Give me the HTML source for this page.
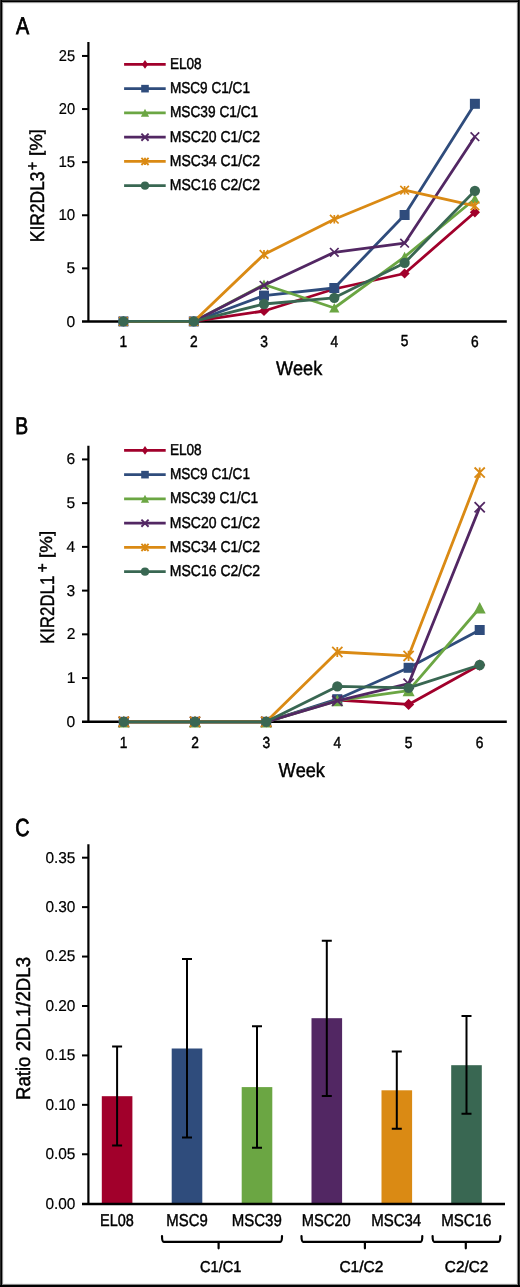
<!DOCTYPE html><html><head><meta charset="utf-8"><style>html,body{margin:0;padding:0;background:#fff;}svg{display:block;will-change:transform;}text{font-family:"Liberation Sans",sans-serif;fill:#000;font-kerning:none;text-rendering:geometricPrecision;stroke:#000;stroke-width:0.45px;}</style></head><body>
<svg width="520" height="1287" viewBox="0 0 520 1287">
<rect width="520" height="1287" fill="#fff"/>
<text transform="translate(15.96 33.50) scale(0.8139 1)" font-size="24.27" style="stroke-width:0.8px">A</text>
<path d="M88.4 42V321.45" stroke="#000" stroke-width="2.2" fill="none"/>
<path d="M82 321.45H506.8" stroke="#000" stroke-width="2.5" fill="none"/>
<text transform="translate(66.53 326.52) scale(1.0000 1)" font-size="15.60" style="stroke-width:0.2px">0</text>
<path d="M82 268.35H88.4" stroke="#000" stroke-width="2" fill="none"/>
<text transform="translate(66.58 273.34) scale(1.0000 1)" font-size="15.60" style="stroke-width:0.2px">5</text>
<path d="M82 215.25H88.4" stroke="#000" stroke-width="2" fill="none"/>
<text transform="translate(58.45 220.32) scale(0.9644 1)" font-size="15.60" style="stroke-width:0.2px">10</text>
<path d="M82 162.15H88.4" stroke="#000" stroke-width="2" fill="none"/>
<text transform="translate(58.45 167.14) scale(0.9672 1)" font-size="15.60" style="stroke-width:0.2px">15</text>
<path d="M82 109.05H88.4" stroke="#000" stroke-width="2" fill="none"/>
<text transform="translate(58.86 114.12) scale(0.9400 1)" font-size="15.60" style="stroke-width:0.2px">20</text>
<path d="M82 55.95H88.4" stroke="#000" stroke-width="2" fill="none"/>
<text transform="translate(58.86 61.02) scale(0.9427 1)" font-size="15.60" style="stroke-width:0.2px">25</text>
<text transform="translate(119.39 346.55) scale(0.8600 1)" font-size="16.00">1</text>
<text transform="translate(189.97 346.64) scale(0.8600 1)" font-size="16.00">2</text>
<text transform="translate(260.21 346.56) scale(0.8600 1)" font-size="16.00">3</text>
<text transform="translate(330.52 346.55) scale(0.8600 1)" font-size="16.00">4</text>
<text transform="translate(400.79 346.48) scale(0.8600 1)" font-size="16.00">5</text>
<text transform="translate(471.03 346.56) scale(0.8600 1)" font-size="16.00">6</text>
<path d="M123.40 321.45 L193.80 321.45 L264.00 311.00 L334.30 289.00 L404.60 273.50 L474.90 212.30" stroke="#A1002B" stroke-width="2.8" fill="none" stroke-linejoin="round"/>
<path d="M123.40 316.35L128.50 321.45L123.40 326.55L118.30 321.45Z" fill="#A1002B"/>
<path d="M193.80 316.35L198.90 321.45L193.80 326.55L188.70 321.45Z" fill="#A1002B"/>
<path d="M264.00 305.90L269.10 311.00L264.00 316.10L258.90 311.00Z" fill="#A1002B"/>
<path d="M334.30 283.90L339.40 289.00L334.30 294.10L329.20 289.00Z" fill="#A1002B"/>
<path d="M404.60 268.40L409.70 273.50L404.60 278.60L399.50 273.50Z" fill="#A1002B"/>
<path d="M474.90 207.20L480.00 212.30L474.90 217.40L469.80 212.30Z" fill="#A1002B"/>
<path d="M123.40 321.45 L193.80 321.45 L264.00 295.60 L334.30 288.00 L404.60 215.00 L474.90 103.80" stroke="#2F4C7C" stroke-width="2.8" fill="none" stroke-linejoin="round"/>
<rect x="118.40" y="316.45" width="10.00" height="10.00" fill="#2F4C7C"/>
<rect x="188.80" y="316.45" width="10.00" height="10.00" fill="#2F4C7C"/>
<rect x="259.00" y="290.60" width="10.00" height="10.00" fill="#2F4C7C"/>
<rect x="329.30" y="283.00" width="10.00" height="10.00" fill="#2F4C7C"/>
<rect x="399.60" y="210.00" width="10.00" height="10.00" fill="#2F4C7C"/>
<rect x="469.90" y="98.80" width="10.00" height="10.00" fill="#2F4C7C"/>
<path d="M123.40 321.45 L193.80 321.45 L264.00 284.50 L334.30 308.00 L404.60 256.80 L474.90 199.00" stroke="#6BA643" stroke-width="2.8" fill="none" stroke-linejoin="round"/>
<path d="M123.40 316.45L128.50 326.05L118.30 326.05Z" fill="#6BA643"/>
<path d="M193.80 316.45L198.90 326.05L188.70 326.05Z" fill="#6BA643"/>
<path d="M264.00 279.50L269.10 289.10L258.90 289.10Z" fill="#6BA643"/>
<path d="M334.30 303.00L339.40 312.60L329.20 312.60Z" fill="#6BA643"/>
<path d="M404.60 251.80L409.70 261.40L399.50 261.40Z" fill="#6BA643"/>
<path d="M474.90 194.00L480.00 203.60L469.80 203.60Z" fill="#6BA643"/>
<path d="M123.40 321.45 L193.80 321.45 L264.00 285.30 L334.30 252.30 L404.60 243.20 L474.90 136.70" stroke="#522763" stroke-width="2.8" fill="none" stroke-linejoin="round"/>
<path d="M119.10 317.15L127.70 325.75M127.70 317.15L119.10 325.75" stroke="#522763" stroke-width="1.7" fill="none"/>
<path d="M189.50 317.15L198.10 325.75M198.10 317.15L189.50 325.75" stroke="#522763" stroke-width="1.7" fill="none"/>
<path d="M259.70 281.00L268.30 289.60M268.30 281.00L259.70 289.60" stroke="#522763" stroke-width="1.7" fill="none"/>
<path d="M330.00 248.00L338.60 256.60M338.60 248.00L330.00 256.60" stroke="#522763" stroke-width="1.7" fill="none"/>
<path d="M400.30 238.90L408.90 247.50M408.90 238.90L400.30 247.50" stroke="#522763" stroke-width="1.7" fill="none"/>
<path d="M470.60 132.40L479.20 141.00M479.20 132.40L470.60 141.00" stroke="#522763" stroke-width="1.7" fill="none"/>
<path d="M123.40 321.45 L193.80 321.45 L264.00 254.40 L334.30 219.20 L404.60 190.20 L474.90 205.80" stroke="#DA8A14" stroke-width="2.8" fill="none" stroke-linejoin="round"/>
<path d="M119.10 317.15L127.70 325.75M127.70 317.15L119.10 325.75M123.40 317.15L123.40 325.75" stroke="#DA8A14" stroke-width="1.7" fill="none"/>
<path d="M189.50 317.15L198.10 325.75M198.10 317.15L189.50 325.75M193.80 317.15L193.80 325.75" stroke="#DA8A14" stroke-width="1.7" fill="none"/>
<path d="M259.70 250.10L268.30 258.70M268.30 250.10L259.70 258.70M264.00 250.10L264.00 258.70" stroke="#DA8A14" stroke-width="1.7" fill="none"/>
<path d="M330.00 214.90L338.60 223.50M338.60 214.90L330.00 223.50M334.30 214.90L334.30 223.50" stroke="#DA8A14" stroke-width="1.7" fill="none"/>
<path d="M400.30 185.90L408.90 194.50M408.90 185.90L400.30 194.50M404.60 185.90L404.60 194.50" stroke="#DA8A14" stroke-width="1.7" fill="none"/>
<path d="M470.60 201.50L479.20 210.10M479.20 201.50L470.60 210.10M474.90 201.50L474.90 210.10" stroke="#DA8A14" stroke-width="1.7" fill="none"/>
<path d="M123.40 321.45 L193.80 321.45 L264.00 304.00 L334.30 297.80 L404.60 262.90 L474.90 190.80" stroke="#396752" stroke-width="2.8" fill="none" stroke-linejoin="round"/>
<circle cx="123.40" cy="321.45" r="5.15" fill="#396752"/>
<circle cx="193.80" cy="321.45" r="5.15" fill="#396752"/>
<circle cx="264.00" cy="304.00" r="5.15" fill="#396752"/>
<circle cx="334.30" cy="297.80" r="5.15" fill="#396752"/>
<circle cx="404.60" cy="262.90" r="5.15" fill="#396752"/>
<circle cx="474.90" cy="190.80" r="5.15" fill="#396752"/>
<path d="M124.1 64.40H165.7" stroke="#A1002B" stroke-width="2.8" fill="none"/>
<path d="M145.00 60.10L148.10 64.40L145.00 68.70L141.90 64.40Z" fill="#A1002B"/>
<text transform="translate(169.88 68.95) scale(0.8636 1)" font-size="15.77">EL08</text>
<path d="M124.1 88.65H165.7" stroke="#2F4C7C" stroke-width="2.8" fill="none"/>
<rect x="141.20" y="84.85" width="7.60" height="7.60" fill="#2F4C7C"/>
<text transform="translate(169.88 93.20) scale(0.8620 1)" font-size="15.77">MSC9 C1/C1</text>
<path d="M124.1 112.90H165.7" stroke="#6BA643" stroke-width="2.8" fill="none"/>
<path d="M145.00 108.70L149.10 116.70L140.90 116.70Z" fill="#6BA643"/>
<text transform="translate(169.88 117.45) scale(0.8694 1)" font-size="15.77">MSC39 C1/C1</text>
<path d="M124.1 137.15H165.7" stroke="#522763" stroke-width="2.8" fill="none"/>
<path d="M141.40 133.55L148.60 140.75M148.60 133.55L141.40 140.75" stroke="#522763" stroke-width="1.9" fill="none"/>
<text transform="translate(169.85 141.70) scale(0.8877 1)" font-size="15.77">MSC20 C1/C2</text>
<path d="M124.1 161.40H165.7" stroke="#DA8A14" stroke-width="2.8" fill="none"/>
<path d="M141.40 157.80L148.60 165.00M148.60 157.80L141.40 165.00M145.00 157.80L145.00 165.00" stroke="#DA8A14" stroke-width="1.9" fill="none"/>
<text transform="translate(169.85 165.95) scale(0.8877 1)" font-size="15.77">MSC34 C1/C2</text>
<path d="M124.1 185.65H165.7" stroke="#396752" stroke-width="2.8" fill="none"/>
<circle cx="145.00" cy="185.65" r="4.10" fill="#396752"/>
<text transform="translate(169.85 190.20) scale(0.8877 1)" font-size="15.77">MSC16 C2/C2</text>
<text transform="translate(275.92 374.70) scale(0.9140 1)" font-size="19.84">Week</text>
<text transform="translate(43.70 242.13) rotate(-90) scale(0.8814 1)" font-size="19.77">KIR2DL3</text>
<text transform="translate(38.19 170.21) rotate(-90) scale(0.8614 1)" font-size="16.96">+</text>
<text transform="translate(42.27 156.04) rotate(-90) scale(1.0715 1)" font-size="17.49">[%]</text>
<text transform="translate(15.21 433.70) scale(0.8021 1)" font-size="24.13" style="stroke-width:0.8px">B</text>
<path d="M88.4 445.75V721.8" stroke="#000" stroke-width="2.2" fill="none"/>
<path d="M82 721.8H506.8" stroke="#000" stroke-width="2.5" fill="none"/>
<text transform="translate(66.53 726.87) scale(1.0000 1)" font-size="15.60" style="stroke-width:0.2px">0</text>
<path d="M82 678.07H88.4" stroke="#000" stroke-width="2" fill="none"/>
<text transform="translate(66.69 683.14) scale(1.0000 1)" font-size="15.60" style="stroke-width:0.2px">1</text>
<path d="M82 634.34H88.4" stroke="#000" stroke-width="2" fill="none"/>
<text transform="translate(66.71 639.49) scale(1.0000 1)" font-size="15.60" style="stroke-width:0.2px">2</text>
<path d="M82 590.61H88.4" stroke="#000" stroke-width="2" fill="none"/>
<text transform="translate(66.61 595.68) scale(1.0000 1)" font-size="15.60" style="stroke-width:0.2px">3</text>
<path d="M82 546.88H88.4" stroke="#000" stroke-width="2" fill="none"/>
<text transform="translate(66.38 551.95) scale(1.0000 1)" font-size="15.60" style="stroke-width:0.2px">4</text>
<path d="M82 503.15H88.4" stroke="#000" stroke-width="2" fill="none"/>
<text transform="translate(66.58 508.14) scale(1.0000 1)" font-size="15.60" style="stroke-width:0.2px">5</text>
<path d="M82 459.42H88.4" stroke="#000" stroke-width="2" fill="none"/>
<text transform="translate(66.61 464.49) scale(1.0000 1)" font-size="15.60" style="stroke-width:0.2px">6</text>
<text transform="translate(119.79 748.15) scale(0.8600 1)" font-size="16.00">1</text>
<text transform="translate(191.17 748.24) scale(0.8600 1)" font-size="16.00">2</text>
<text transform="translate(262.41 748.16) scale(0.8600 1)" font-size="16.00">3</text>
<text transform="translate(333.52 748.15) scale(0.8600 1)" font-size="16.00">4</text>
<text transform="translate(404.79 748.08) scale(0.8600 1)" font-size="16.00">5</text>
<text transform="translate(475.83 748.16) scale(0.8600 1)" font-size="16.00">6</text>
<path d="M123.80 721.80 L195.00 721.80 L266.20 721.80 L337.30 700.00 L408.60 704.40 L479.70 665.10" stroke="#A1002B" stroke-width="2.8" fill="none" stroke-linejoin="round"/>
<path d="M123.80 716.20L129.40 721.80L123.80 727.40L118.20 721.80Z" fill="#A1002B"/>
<path d="M195.00 716.20L200.60 721.80L195.00 727.40L189.40 721.80Z" fill="#A1002B"/>
<path d="M266.20 716.20L271.80 721.80L266.20 727.40L260.60 721.80Z" fill="#A1002B"/>
<path d="M337.30 694.40L342.90 700.00L337.30 705.60L331.70 700.00Z" fill="#A1002B"/>
<path d="M408.60 698.80L414.20 704.40L408.60 710.00L403.00 704.40Z" fill="#A1002B"/>
<path d="M479.70 659.50L485.30 665.10L479.70 670.70L474.10 665.10Z" fill="#A1002B"/>
<path d="M123.80 721.80 L195.00 721.80 L266.20 721.80 L337.30 699.20 L408.60 667.80 L479.70 630.00" stroke="#2F4C7C" stroke-width="2.8" fill="none" stroke-linejoin="round"/>
<rect x="118.80" y="716.80" width="10.00" height="10.00" fill="#2F4C7C"/>
<rect x="190.00" y="716.80" width="10.00" height="10.00" fill="#2F4C7C"/>
<rect x="261.20" y="716.80" width="10.00" height="10.00" fill="#2F4C7C"/>
<rect x="332.30" y="694.20" width="10.00" height="10.00" fill="#2F4C7C"/>
<rect x="403.60" y="662.80" width="10.00" height="10.00" fill="#2F4C7C"/>
<rect x="474.70" y="625.00" width="10.00" height="10.00" fill="#2F4C7C"/>
<path d="M123.80 721.80 L195.00 721.80 L266.20 721.80 L337.30 700.60 L408.60 690.60 L479.70 608.00" stroke="#6BA643" stroke-width="2.8" fill="none" stroke-linejoin="round"/>
<path d="M123.80 715.80L129.80 727.40L117.80 727.40Z" fill="#6BA643"/>
<path d="M195.00 715.80L201.00 727.40L189.00 727.40Z" fill="#6BA643"/>
<path d="M266.20 715.80L272.20 727.40L260.20 727.40Z" fill="#6BA643"/>
<path d="M337.30 694.60L343.30 706.20L331.30 706.20Z" fill="#6BA643"/>
<path d="M408.60 684.60L414.60 696.20L402.60 696.20Z" fill="#6BA643"/>
<path d="M479.70 602.00L485.70 613.60L473.70 613.60Z" fill="#6BA643"/>
<path d="M123.80 721.80 L195.00 721.80 L266.20 721.80 L337.30 700.80 L408.60 683.70 L479.70 507.30" stroke="#522763" stroke-width="2.8" fill="none" stroke-linejoin="round"/>
<path d="M118.70 716.70L128.90 726.90M128.90 716.70L118.70 726.90" stroke="#522763" stroke-width="1.8" fill="none"/>
<path d="M189.90 716.70L200.10 726.90M200.10 716.70L189.90 726.90" stroke="#522763" stroke-width="1.8" fill="none"/>
<path d="M261.10 716.70L271.30 726.90M271.30 716.70L261.10 726.90" stroke="#522763" stroke-width="1.8" fill="none"/>
<path d="M332.20 695.70L342.40 705.90M342.40 695.70L332.20 705.90" stroke="#522763" stroke-width="1.8" fill="none"/>
<path d="M403.50 678.60L413.70 688.80M413.70 678.60L403.50 688.80" stroke="#522763" stroke-width="1.8" fill="none"/>
<path d="M474.60 502.20L484.80 512.40M484.80 502.20L474.60 512.40" stroke="#522763" stroke-width="1.8" fill="none"/>
<path d="M123.80 721.80 L195.00 721.80 L266.20 721.80 L337.30 652.00 L408.60 655.90 L479.70 472.60" stroke="#DA8A14" stroke-width="2.8" fill="none" stroke-linejoin="round"/>
<path d="M118.70 716.70L128.90 726.90M128.90 716.70L118.70 726.90M123.80 716.70L123.80 726.90" stroke="#DA8A14" stroke-width="1.8" fill="none"/>
<path d="M189.90 716.70L200.10 726.90M200.10 716.70L189.90 726.90M195.00 716.70L195.00 726.90" stroke="#DA8A14" stroke-width="1.8" fill="none"/>
<path d="M261.10 716.70L271.30 726.90M271.30 716.70L261.10 726.90M266.20 716.70L266.20 726.90" stroke="#DA8A14" stroke-width="1.8" fill="none"/>
<path d="M332.20 646.90L342.40 657.10M342.40 646.90L332.20 657.10M337.30 646.90L337.30 657.10" stroke="#DA8A14" stroke-width="1.8" fill="none"/>
<path d="M403.50 650.80L413.70 661.00M413.70 650.80L403.50 661.00M408.60 650.80L408.60 661.00" stroke="#DA8A14" stroke-width="1.8" fill="none"/>
<path d="M474.60 467.50L484.80 477.70M484.80 467.50L474.60 477.70M479.70 467.50L479.70 477.70" stroke="#DA8A14" stroke-width="1.8" fill="none"/>
<path d="M123.80 721.80 L195.00 721.80 L266.20 721.80 L337.30 686.40 L408.60 687.80 L479.70 665.00" stroke="#396752" stroke-width="2.8" fill="none" stroke-linejoin="round"/>
<circle cx="123.80" cy="721.80" r="5.15" fill="#396752"/>
<circle cx="195.00" cy="721.80" r="5.15" fill="#396752"/>
<circle cx="266.20" cy="721.80" r="5.15" fill="#396752"/>
<circle cx="337.30" cy="686.40" r="5.15" fill="#396752"/>
<circle cx="408.60" cy="687.80" r="5.15" fill="#396752"/>
<circle cx="479.70" cy="665.00" r="5.15" fill="#396752"/>
<path d="M124.1 450.40H165.7" stroke="#A1002B" stroke-width="2.8" fill="none"/>
<path d="M145.00 446.10L148.10 450.40L145.00 454.70L141.90 450.40Z" fill="#A1002B"/>
<text transform="translate(169.88 454.95) scale(0.8636 1)" font-size="15.77">EL08</text>
<path d="M124.1 474.65H165.7" stroke="#2F4C7C" stroke-width="2.8" fill="none"/>
<rect x="141.20" y="470.85" width="7.60" height="7.60" fill="#2F4C7C"/>
<text transform="translate(169.88 479.20) scale(0.8620 1)" font-size="15.77">MSC9 C1/C1</text>
<path d="M124.1 498.90H165.7" stroke="#6BA643" stroke-width="2.8" fill="none"/>
<path d="M145.00 494.70L149.10 502.70L140.90 502.70Z" fill="#6BA643"/>
<text transform="translate(169.88 503.45) scale(0.8694 1)" font-size="15.77">MSC39 C1/C1</text>
<path d="M124.1 523.15H165.7" stroke="#522763" stroke-width="2.8" fill="none"/>
<path d="M141.40 519.55L148.60 526.75M148.60 519.55L141.40 526.75" stroke="#522763" stroke-width="1.9" fill="none"/>
<text transform="translate(169.85 527.70) scale(0.8877 1)" font-size="15.77">MSC20 C1/C2</text>
<path d="M124.1 547.40H165.7" stroke="#DA8A14" stroke-width="2.8" fill="none"/>
<path d="M141.40 543.80L148.60 551.00M148.60 543.80L141.40 551.00M145.00 543.80L145.00 551.00" stroke="#DA8A14" stroke-width="1.9" fill="none"/>
<text transform="translate(169.85 551.95) scale(0.8877 1)" font-size="15.77">MSC34 C1/C2</text>
<path d="M124.1 571.65H165.7" stroke="#396752" stroke-width="2.8" fill="none"/>
<circle cx="145.00" cy="571.65" r="4.10" fill="#396752"/>
<text transform="translate(169.85 576.20) scale(0.8877 1)" font-size="15.77">MSC16 C2/C2</text>
<text transform="translate(278.62 776.50) scale(0.8975 1)" font-size="20.20">Week</text>
<text transform="translate(53.80 644.08) rotate(-90) scale(0.8592 1)" font-size="19.62">KIR2DL1</text>
<text transform="translate(48.19 572.47) rotate(-90) scale(0.9342 1)" font-size="16.96">+</text>
<text transform="translate(52.22 558.04) rotate(-90) scale(1.0892 1)" font-size="17.27">[%]</text>
<text transform="translate(15.30 835.56) scale(0.7985 1)" font-size="24.72" style="stroke-width:0.8px">C</text>
<path d="M88.4 844.25V1204.0" stroke="#000" stroke-width="2.2" fill="none"/>
<text transform="translate(45.40 1208.57) scale(0.9882 1)" font-size="15.60" style="stroke-width:0.2px">0.00</text>
<path d="M82 1154.27H88.4" stroke="#000" stroke-width="2" fill="none"/>
<text transform="translate(45.40 1159.14) scale(0.9898 1)" font-size="15.60" style="stroke-width:0.2px">0.05</text>
<path d="M82 1104.84H88.4" stroke="#000" stroke-width="2" fill="none"/>
<text transform="translate(45.40 1109.71) scale(0.9882 1)" font-size="15.60" style="stroke-width:0.2px">0.10</text>
<path d="M82 1055.41H88.4" stroke="#000" stroke-width="2" fill="none"/>
<text transform="translate(45.40 1060.28) scale(0.9898 1)" font-size="15.60" style="stroke-width:0.2px">0.15</text>
<path d="M82 1005.98H88.4" stroke="#000" stroke-width="2" fill="none"/>
<text transform="translate(45.40 1010.85) scale(0.9882 1)" font-size="15.60" style="stroke-width:0.2px">0.20</text>
<path d="M82 956.55H88.4" stroke="#000" stroke-width="2" fill="none"/>
<text transform="translate(45.40 961.42) scale(0.9898 1)" font-size="15.60" style="stroke-width:0.2px">0.25</text>
<path d="M82 907.12H88.4" stroke="#000" stroke-width="2" fill="none"/>
<text transform="translate(45.40 911.99) scale(0.9882 1)" font-size="15.60" style="stroke-width:0.2px">0.30</text>
<path d="M82 857.69H88.4" stroke="#000" stroke-width="2" fill="none"/>
<text transform="translate(45.40 862.56) scale(0.9898 1)" font-size="15.60" style="stroke-width:0.2px">0.35</text>
<text transform="translate(29.80 1100.08) rotate(-90) scale(0.9374 1)" font-size="19.91">Ratio 2DL1/2DL3</text>
<rect x="101.80" y="1096.20" width="30.6" height="107.80" fill="#A1002B"/>
<rect x="171.70" y="1048.50" width="30.6" height="155.50" fill="#2F4C7C"/>
<rect x="241.70" y="1087.10" width="30.6" height="116.90" fill="#6BA643"/>
<rect x="311.50" y="1018.20" width="30.6" height="185.80" fill="#522763"/>
<rect x="381.50" y="1090.30" width="30.6" height="113.70" fill="#DA8A14"/>
<rect x="451.20" y="1065.20" width="30.6" height="138.80" fill="#396752"/>
<path d="M117.10 1046.60V1145.50M112.10 1046.60H122.10M112.10 1145.50H122.10" stroke="#000" stroke-width="2" fill="none"/>
<path d="M187.00 959.10V1137.40M182.00 959.10H192.00M182.00 1137.40H192.00" stroke="#000" stroke-width="2" fill="none"/>
<path d="M257.00 1026.20V1147.70M252.00 1026.20H262.00M252.00 1147.70H262.00" stroke="#000" stroke-width="2" fill="none"/>
<path d="M326.80 940.70V1096.10M321.80 940.70H331.80M321.80 1096.10H331.80" stroke="#000" stroke-width="2" fill="none"/>
<path d="M396.80 1051.60V1128.70M391.80 1051.60H401.80M391.80 1128.70H401.80" stroke="#000" stroke-width="2" fill="none"/>
<path d="M466.50 1015.90V1113.80M461.50 1015.90H471.50M461.50 1113.80H471.50" stroke="#000" stroke-width="2" fill="none"/>
<path d="M82 1204.0H505" stroke="#000" stroke-width="2.6" fill="none"/>
<text transform="translate(100.11 1225.80) scale(0.8442 1)" font-size="17.15">EL08</text>
<text transform="translate(166.28 1225.80) scale(0.8694 1)" font-size="17.15">MSC9</text>
<text transform="translate(231.77 1225.80) scale(0.8750 1)" font-size="17.15">MSC39</text>
<text transform="translate(301.69 1225.80) scale(0.8582 1)" font-size="17.15">MSC20</text>
<text transform="translate(371.17 1225.80) scale(0.8755 1)" font-size="17.15">MSC34</text>
<text transform="translate(441.16 1225.80) scale(0.8795 1)" font-size="17.15">MSC16</text>
<path d="M162.00 1236Q162.00 1241.9 163.80 1241.9H280.20Q282.00 1241.9 282.00 1236M218.60 1241.9V1248.3" stroke="#000" stroke-width="2.2" fill="none" stroke-linecap="round"/>
<path d="M301.50 1236Q301.50 1241.9 303.30 1241.9H420.50Q422.30 1241.9 422.30 1236M364.90 1241.9V1248.3" stroke="#000" stroke-width="2.2" fill="none" stroke-linecap="round"/>
<path d="M432.60 1236Q432.60 1241.9 434.40 1241.9H498.50Q500.30 1241.9 500.30 1236M465.80 1241.9V1248.3" stroke="#000" stroke-width="2.2" fill="none" stroke-linecap="round"/>
<text transform="translate(200.06 1271.95) scale(0.9314 1)" font-size="15.63">C1/C1</text>
<text transform="translate(339.41 1271.95) scale(0.9927 1)" font-size="15.63">C1/C2</text>
<text transform="translate(444.82 1271.95) scale(0.9810 1)" font-size="15.63">C2/C2</text>
<rect x="3" y="3" width="1" height="1281" fill="#f0f0f0"/><rect x="3" y="3" width="514" height="1" fill="#f2f2f2"/><rect x="516" y="3" width="1" height="1281" fill="#f0f0f0"/><rect x="3" y="1283" width="514" height="1" fill="#f0f0f0"/>
<rect x="0" y="2" width="520" height="1" fill="#999"/><rect x="2" y="0" width="1" height="1287" fill="#888"/><rect x="517" y="0" width="1" height="1287" fill="#808080"/><rect x="0" y="1284" width="520" height="1" fill="#888"/>
<rect x="0" y="0" width="520" height="1" fill="#2a2a2a"/><rect x="0" y="1" width="520" height="1" fill="#000"/>
<rect x="0" y="0" width="1" height="1287" fill="#2a2a2a"/><rect x="1" y="0" width="1" height="1287" fill="#000"/>
<rect x="519" y="0" width="1" height="1287" fill="#2a2a2a"/><rect x="518" y="0" width="1" height="1287" fill="#000"/>
<rect x="0" y="1285" width="520" height="2" fill="#000"/>
</svg></body></html>
